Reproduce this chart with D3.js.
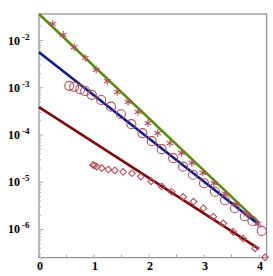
<!DOCTYPE html>
<html>
<head>
<meta charset="utf-8">
<script src="https://cdn.jsdelivr.net/npm/d3@7"></script>
<style>
  html, body { margin: 0; padding: 0; background: #fff; overflow: hidden; }
  svg { display: block; }
  .tick-label { font-family: 'Liberation Serif', 'Times New Roman', serif; font-weight: bold; fill: #000; }
</style>
</head>
<body>
<svg width="273" height="276"></svg>
<script>
  // fitted lines: [x, log10 y] endpoints
  const greenLine = [[0, -1.44], [4, -5.86]];
  const blueLine = [[0, -2.25], [4, -5.9]];
  const redLine = [[0, -3.41], [4, -6.41]];

  // stars (log10 y)
  const starX = [0.25, 0.44, 0.64, 0.84, 1.04, 1.24, 1.42, 1.62, 1.80, 1.98, 2.16, 2.38, 2.59, 2.78, 2.98, 3.18, 3.38, 3.58, 3.78, 3.98];
  const starY = [-1.65, -1.88, -2.14, -2.37, -2.62, -2.86, -3.09, -3.30, -3.51, -3.75, -3.96, -4.17, -4.38, -4.59, -4.80, -5.02, -5.24, -5.46, -5.68, -5.88];

  // circles
  const circX = [0.55, 0.64, 0.75, 0.84, 0.96, 1.13, 1.31, 1.49, 1.68, 1.88, 2.05, 2.23, 2.44, 2.62, 2.80, 3.00, 3.20, 3.38, 3.56, 3.74, 3.88, 4.05];
  const circY = [-2.96, -2.98, -3.03, -3.07, -3.15, -3.26, -3.40, -3.56, -3.77, -3.96, -4.13, -4.30, -4.49, -4.67, -4.84, -5.02, -5.20, -5.38, -5.55, -5.72, -5.82, -6.03];

  // diamonds
  const diamX = [0.98, 1.01, 1.05, 1.14, 1.26, 1.38, 1.53, 1.69, 1.85, 2.04, 2.23, 2.41, 2.62, 2.81, 2.99, 3.17, 3.35, 3.53, 3.71, 3.93, 4.11];
  const diamY = [-4.635, -4.645, -4.67, -4.70, -4.73, -4.75, -4.78, -4.81, -4.88, -4.98, -5.09, -5.20, -5.31, -5.41, -5.55, -5.73, -5.87, -6.05, -6.19, -6.40, -6.59];

  const xTicks = [0, 1, 2, 3, 4];
  const yTicks = [-6, -5, -4, -3, -2];

  const svg = d3.select('svg');
  const margin = { top: 14, right: 6.3, bottom: 18.3, left: 39 };
  const width = +svg.attr('width');
  const height = +svg.attr('height');
  const innerWidth = width - margin.left - margin.right;
  const innerHeight = height - margin.top - margin.bottom;

  const xScale = d3.scaleLinear()
    .domain([0, 4.14])
    .range([0, innerWidth]);

  const yScale = d3.scaleLog()
    .domain([Math.pow(10, -6.597), Math.pow(10, -1.439)])
    .range([innerHeight, 0]);

  const g = svg.append('g')
    .attr('transform', `translate(${margin.left},${margin.top})`);

  // frame
  g.append('rect')
    .attr('width', innerWidth)
    .attr('height', innerHeight)
    .attr('fill', 'none')
    .attr('stroke', '#777')
    .attr('stroke-width', 1);

  // minor ticks on x
  const xMinor = d3.range(0, 4.01, 0.5);
  g.selectAll('.xtick').data(xMinor).join('line')
    .attr('x1', d => xScale(d)).attr('x2', d => xScale(d))
    .attr('y1', innerHeight).attr('y2', innerHeight - 3)
    .attr('stroke', '#aaa');

  // minor ticks on y
  const yMinor = [];
  for (let e = -7; e <= -2; e++) {
    for (let m = 1; m <= 9; m++) {
      const v = m * Math.pow(10, e);
      if (v >= yScale.domain()[0] && v <= yScale.domain()[1]) yMinor.push({ v, major: m === 1 });
    }
  }
  g.selectAll('.ytick').data(yMinor).join('line')
    .attr('x1', 0).attr('x2', d => d.major ? 4 : 2)
    .attr('y1', d => yScale(d.v)).attr('y2', d => yScale(d.v))
    .attr('stroke', '#aaa');

  // x labels
  g.selectAll('.xl').data(xTicks).join('text')
    .attr('class', 'tick-label')
    .attr('x', d => xScale(d) + 1)
    .attr('y', innerHeight + 12)
    .attr('text-anchor', 'middle')
    .style('font-size', '12px')
    .text(d => d);

  // y labels: base and exponent
  g.selectAll('.yl').data(yTicks).join('text')
    .attr('class', 'tick-label')
    .attr('x', -19)
    .attr('y', d => yScale(Math.pow(10, d)) + 4)
    .attr('text-anchor', 'end')
    .style('font-size', '12px')
    .text('10');
  g.selectAll('.ye').data(yTicks).join('text')
    .attr('class', 'tick-label')
    .attr('x', -17)
    .attr('y', d => yScale(Math.pow(10, d)) - 1)
    .attr('text-anchor', 'start')
    .style('font-size', '9px')
    .text(d => '-' + Math.abs(d));

  const line = d3.line()
    .x(d => xScale(d[0]))
    .y(d => yScale(Math.pow(10, d[1])));

  const lines = [
    { data: greenLine, color: '#5b8c0a' },
    { data: blueLine, color: '#0b1a8c' },
    { data: redLine, color: '#7a0a0a' }
  ];
  g.selectAll('.fit').data(lines).join('path')
    .attr('d', d => line(d.data))
    .attr('fill', 'none')
    .attr('stroke', d => d.color)
    .attr('stroke-width', 2.6);

  const markColor = '#b0505c';

  g.selectAll('.star').data(starX.map((x, i) => [x, starY[i]])).join('path')
    .attr('transform', d => `translate(${xScale(d[0])},${yScale(Math.pow(10, d[1]))})`)
    .attr('d', d3.symbol(d3.symbolAsterisk, 40))
    .attr('fill', 'none')
    .attr('stroke', markColor)
    .attr('stroke-width', 1.1);

  g.selectAll('.circ').data(circX.map((x, i) => [x, circY[i]])).join('circle')
    .attr('cx', d => xScale(d[0]))
    .attr('cy', d => yScale(Math.pow(10, d[1])))
    .attr('r', 4.5)
    .attr('fill', 'none')
    .attr('stroke', markColor)
    .attr('stroke-width', 1.1);

  g.selectAll('.diam').data(diamX.map((x, i) => [x, diamY[i]])).join('path')
    .attr('transform', d => `translate(${xScale(d[0])},${yScale(Math.pow(10, d[1]))})`)
    .attr('d', d3.symbol(d3.symbolDiamond2, 28))
    .attr('fill', 'none')
    .attr('stroke', markColor)
    .attr('stroke-width', 1.1);
</script>
</body>
</html>
